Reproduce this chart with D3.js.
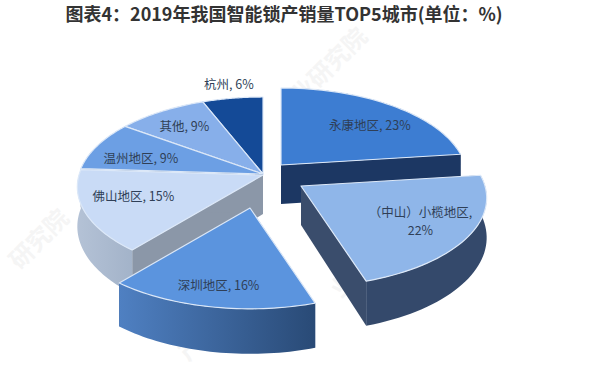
<!DOCTYPE html>
<html>
<head>
<meta charset="utf-8">
<script src="https://cdn.jsdelivr.net/npm/d3@7"></script>
<style>
  html, body { margin: 0; background: #fff; }
  text { font-family: "Noto Sans CJK SC", "Noto Sans", sans-serif; }
</style>
</head>
<body>
<svg id="chart" width="600" height="380"></svg>
<script>
const cities = ['永康地区', '（中山）小榄地区', '深圳地区', '佛山地区', '温州地区', '其他', '杭州'];
const shares = [23, 22, 16, 15, 9, 9, 6];

const topColors = ['#3d7dd2', '#8fb6e9', '#5b94de', '#c9dbf6', '#6c9fe4', '#87afea', '#144a97'];
const wallColors = ['#1c3763', '#3a4d6c', '#2f5283', '#8b97a8', '#4d6f9f', '#5f7aa3', '#0e3266'];
const outerFrom = ['#1c3763', '#34496b', '#4f80c2', '#b4c2d6', '#9fb0c8', '#9fb0c8', '#0e3266'];
const outerTo = ['#1c3763', '#34496b', '#294a76', '#a3b3c9', '#9fb0c8', '#9fb0c8', '#0e3266'];

// apex of every slice, the pieces are pulled apart by hand
const apexes = [[281, 165], [301, 186], [250, 208], [263, 175], [263, 174], [263, 174], [263, 174]];
const labelNudges = [[20, -1], [22, 7], [-9, 23], [-25, 1], [-21, 3], [-15, -7], [-15, -41]];
const drawOrder = [6, 5, 4, 0, 3, 1, 2];

const radiusX = 184;
const radiusY = 87.3;
const perspective = 0.134;
const depth = 39;

const svg = d3.select('#chart');
const defs = svg.append('defs');

svg.append('text')
  .attr('x', 284)
  .attr('y', 21)
  .attr('text-anchor', 'middle')
  .attr('font-size', 18)
  .attr('font-weight', 700)
  .attr('fill', '#333')
  .text('图表4：2019年我国智能锁产销量TOP5城市(单位：%)');

// faint watermark behind the pie
const marks = [[335, 72, '业研究院'], [45, 245, '研究院'], [375, 265, '业研究院'], [205, 345, '产业']];
svg.selectAll('.mark')
  .data(marks)
  .join('text')
  .attr('class', 'mark')
  .attr('transform', d => `translate(${d[0]},${d[1]}) rotate(-45)`)
  .attr('text-anchor', 'middle')
  .attr('font-size', 24)
  .attr('font-weight', 700)
  .attr('fill', '#f5f5f5')
  .text(d => d[2]);

const pie = d3.pie().sort(null).startAngle(0).endAngle(2 * Math.PI);
const arcs = pie(shares);

// rim point of the tilted disc at angle a, r is 0..1 of the radius
function project(a, r) {
  const z = r * Math.cos(a);
  const w = 1 + perspective * z;
  return [radiusX * r * Math.sin(a) / w, -radiusY * z / w];
}

function drop(a, r) {
  return depth / (1 + perspective * r * Math.cos(a));
}

const line = d3.line();

function rimPoints(d, apex, lowered) {
  const steps = d3.range(0, 41).map(i => d.startAngle + (d.endAngle - d.startAngle) * i / 40);
  return steps.map(a => {
    const p = project(a, 1);
    return [apex[0] + p[0], apex[1] + p[1] + (lowered ? drop(a, 1) : 0)];
  });
}

function wallPath(a, apex) {
  const p = project(a, 1);
  return line([
    apex,
    [apex[0] + p[0], apex[1] + p[1]],
    [apex[0] + p[0], apex[1] + p[1] + drop(a, 1)],
    [apex[0], apex[1] + depth]
  ]) + 'Z';
}

drawOrder.forEach(i => {
  const d = arcs[i];
  const apex = apexes[i];
  const g = svg.append('g');

  const grad = defs.append('linearGradient').attr('id', 'outer' + i);
  grad.append('stop').attr('offset', 0).attr('stop-color', outerFrom[i]);
  grad.append('stop').attr('offset', 1).attr('stop-color', outerTo[i]);

  g.selectAll('.wall')
    .data([d.startAngle, d.endAngle])
    .join('path')
    .attr('class', 'wall')
    .attr('d', a => wallPath(a, apex))
    .attr('fill', wallColors[i]);

  const upper = rimPoints(d, apex, false);
  const lower = rimPoints(d, apex, true).reverse();
  g.append('path')
    .attr('d', line(upper.concat(lower)) + 'Z')
    .attr('fill', `url(#outer${i})`);

  g.append('path')
    .attr('d', line([apex].concat(upper)) + 'Z')
    .attr('fill', topColors[i])
    .attr('stroke', '#dce8f8')
    .attr('stroke-width', 1.2)
    .attr('stroke-linejoin', 'round');
});

function addLabel(x, y, str) {
  svg.append('text')
    .attr('x', x)
    .attr('y', y)
    .attr('text-anchor', 'middle')
    .attr('dominant-baseline', 'middle')
    .attr('font-size', 12.5)
    .attr('fill', '#2f3f57')
    .text(str);
}

arcs.forEach((d, i) => {
  const mid = (d.startAngle + d.endAngle) / 2;
  const p = project(mid, 0.6);
  const x = apexes[i][0] + p[0] + labelNudges[i][0];
  const y = apexes[i][1] + p[1] + labelNudges[i][1];
  // the long name wraps onto a second line
  if (cities[i].length > 6) {
    addLabel(x, y - 9, cities[i] + ',');
    addLabel(x, y + 9, shares[i] + '%');
  } else {
    addLabel(x, y, `${cities[i]}, ${shares[i]}%`);
  }
});
</script>
</body>
</html>
